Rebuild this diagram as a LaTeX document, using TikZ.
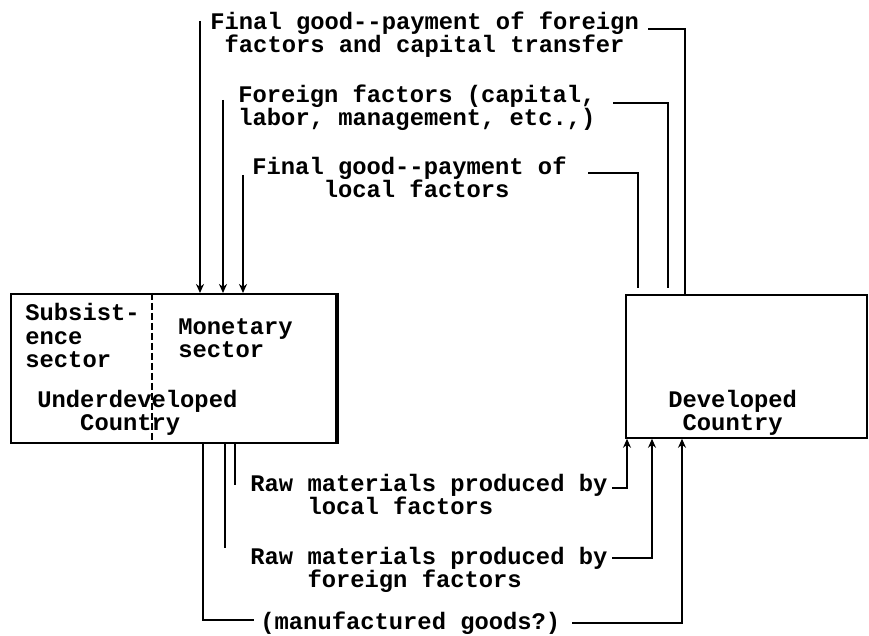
\documentclass[tikz,border=0pt]{standalone}
\usepackage{fontspec}
\setmonofont{Liberation Mono}
\usetikzlibrary{arrows.meta,calc}
\tikzset{
  flow/.style={-{Stealth[length=4.5pt,width=4pt]}, line width=0.9pt},
  wire/.style={line width=0.9pt},
  country/.style={draw, line width=0.9pt, inner sep=0pt, anchor=north west},
  txt/.style={font=\ttfamily\bfseries\fontsize{11.9}{11.75}\selectfont, align=left, inner sep=0pt, anchor=base west},
}

\begin{document}
\begin{tikzpicture}[x=0.5pt, y=-0.5pt]
  \useasboundingbox (0,0) rectangle (869,636);

  % the two countries
  \node[country, minimum width=162.5pt, minimum height=74.5pt] (ud) at (10,293) {};
  \draw[line width=2pt] (ud.north east) -- (ud.south east);
  \draw[line width=0.8pt, dash pattern=on 3.5pt off 1.5pt]
    ($(ud.north west)+(142,0)$) -- ($(ud.south west)+(142,0)$);
  \node[country, minimum width=120.5pt, minimum height=71.5pt] (dc) at (625,294) {};

  \node[txt] (sub) at (25,368) {Subsist-\\ence\\sector};
  \node[txt] (mon) at (178,358) {Monetary\\sector};
  \node[txt] (udc) at (37,431) {Underdeveloped\\\phantom{xxx}Country};
  \node[txt] (dcl) at (668,431) {Developed\\\phantom{x}Country};

  % flows from the developed country
  \node[txt] (fgf) at (210,53) {Final good--payment of foreign\\\phantom{x}factors and capital transfer};
  \node[txt] (ff) at (238,126) {Foreign factors (capital,\\labor, management, etc.,)};
  \node[txt] (fgl) at (252,198) {Final good--payment of\\\phantom{xxxxx}local factors};

  \coordinate (p1) at (200,21);
  \coordinate (p2) at (223,100);
  \coordinate (p3) at (243,175);
  \draw[flow] (p1) -- (p1 |- ud.north);
  \draw[flow] (p2) -- (p2 |- ud.north);
  \draw[flow] (p3) -- (p3 |- ud.north);

  \coordinate (q1) at (648,29);
  \coordinate (q2) at (613,103);
  \coordinate (q3) at (588,173);
  \draw[wire] (q1) -| ($(dc.north west)+(60,0)$);
  \draw[wire] (q2) -| ($(dc.north west)+(43,-6)$);
  \draw[wire] (q3) -| ($(dc.north west)+(13,-6)$);

  % flows to the developed country
  \node[txt] (rml) at (250,515) {Raw materials produced by\\\phantom{xxxx}local factors};
  \node[txt] (rmf) at (250,588) {Raw materials produced by\\\phantom{xxxx}foreign factors};
  \node[txt] (mg) at (260,630) {(manufactured goods?)};

  \coordinate (r1) at (235,485);
  \coordinate (r2) at (225,548);
  \coordinate (r3) at (254,620);
  \draw[wire] (r1 |- ud.south) -- (r1);
  \draw[wire] (r2 |- ud.south) -- (r2);
  \draw[wire] ($(ud.south west)+(193,0)$) |- (r3);

  \coordinate (s1) at (612,488);
  \coordinate (s2) at (612,558);
  \coordinate (s3) at (572,623);
  \draw[flow] (s1) -| ($(dc.south west)+(2,0)$);
  \draw[flow] (s2) -| ($(dc.south west)+(27,0)$);
  \draw[flow] (s3) -| ($(dc.south west)+(57,0)$);

\end{tikzpicture}
\end{document}
